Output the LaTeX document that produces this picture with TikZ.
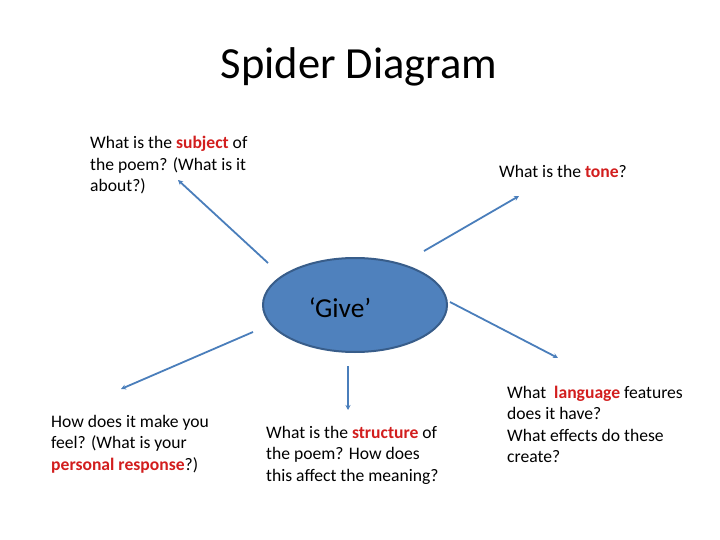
\documentclass[tikz,border=0pt]{standalone}
\usepackage{fontspec}
\setmainfont{Carlito}
\usepackage{xcolor}
\usetikzlibrary{arrows.meta,shapes.geometric}

\definecolor{spokeblue}{RGB}{74,126,187}
\definecolor{hubfill}{RGB}{79,129,189}
\definecolor{hubedge}{RGB}{56,93,138}
\definecolor{kwred}{RGB}{210,30,30}
\newcommand{\kw}[1]{\textbf{\textcolor{kwred}{#1}}}

\begin{document}
\begin{tikzpicture}[
  x=1pt, y=-1pt, >={Stealth[length=5pt,width=5pt]},
  spoke/.style={draw=spokeblue, line width=1.8pt, ->},
  qtext/.style={anchor=base west, align=left, inner sep=0pt,
                font=\fontsize{17.6}{21.5}\selectfont},
  hub/.style={ellipse, draw=hubedge, line width=2pt, fill=hubfill,
              minimum width=184pt, minimum height=94pt}
]
\useasboundingbox (0,0) rectangle (720,540);

% title and centre
\node[font=\fontsize{44.5}{48}\selectfont] (title) at (359,67) {Spider Diagram};
\node[hub] (give) at (355,305) {};
\node[font=\fontsize{27.4}{30}\selectfont] (givelbl) at (340,308) {‘Give’};

% questions (anchored at the baseline of their last line)
\node[qtext] (subj) at (90,192) {What is the \kw{subject} of\\the poem? (What is it\\about?)};
\node[qtext] (tone) at (499,178) {What is the \kw{tone}?};
\node[qtext] (feel) at (51,470) {How does it make you\\feel? (What is your\\\kw{personal response}?)};
\node[qtext] (struct) at (266,481) {What is the \kw{structure} of\\the poem? How does\\this affect the meaning?};
\node[qtext] (lang) at (507,462.5) {What \ \kw{language} features\\does it have?\\What effects do these\\create?};

% spoke ends
\coordinate (subjfoot) at (268,263);
\coordinate (subjtip) at (178,180);
\coordinate (tonefoot) at (424,251);
\coordinate (tonetip) at (519,196);
\coordinate (langfoot) at (450,302);
\coordinate (langtip) at (558,358);
\coordinate (feelfoot) at (253,332);
\coordinate (feeltip) at (121,389);
\coordinate (structfoot) at (348,366);
\coordinate (structtip) at (348,410);

\draw[spoke] (subjfoot) -- (subjtip);
\draw[spoke] (tonefoot) -- (tonetip);
\draw[spoke] (langfoot) -- (langtip);
\draw[spoke] (feelfoot) -- (feeltip);
\draw[spoke] (structfoot) -- (structtip);
\end{tikzpicture}
\end{document}
